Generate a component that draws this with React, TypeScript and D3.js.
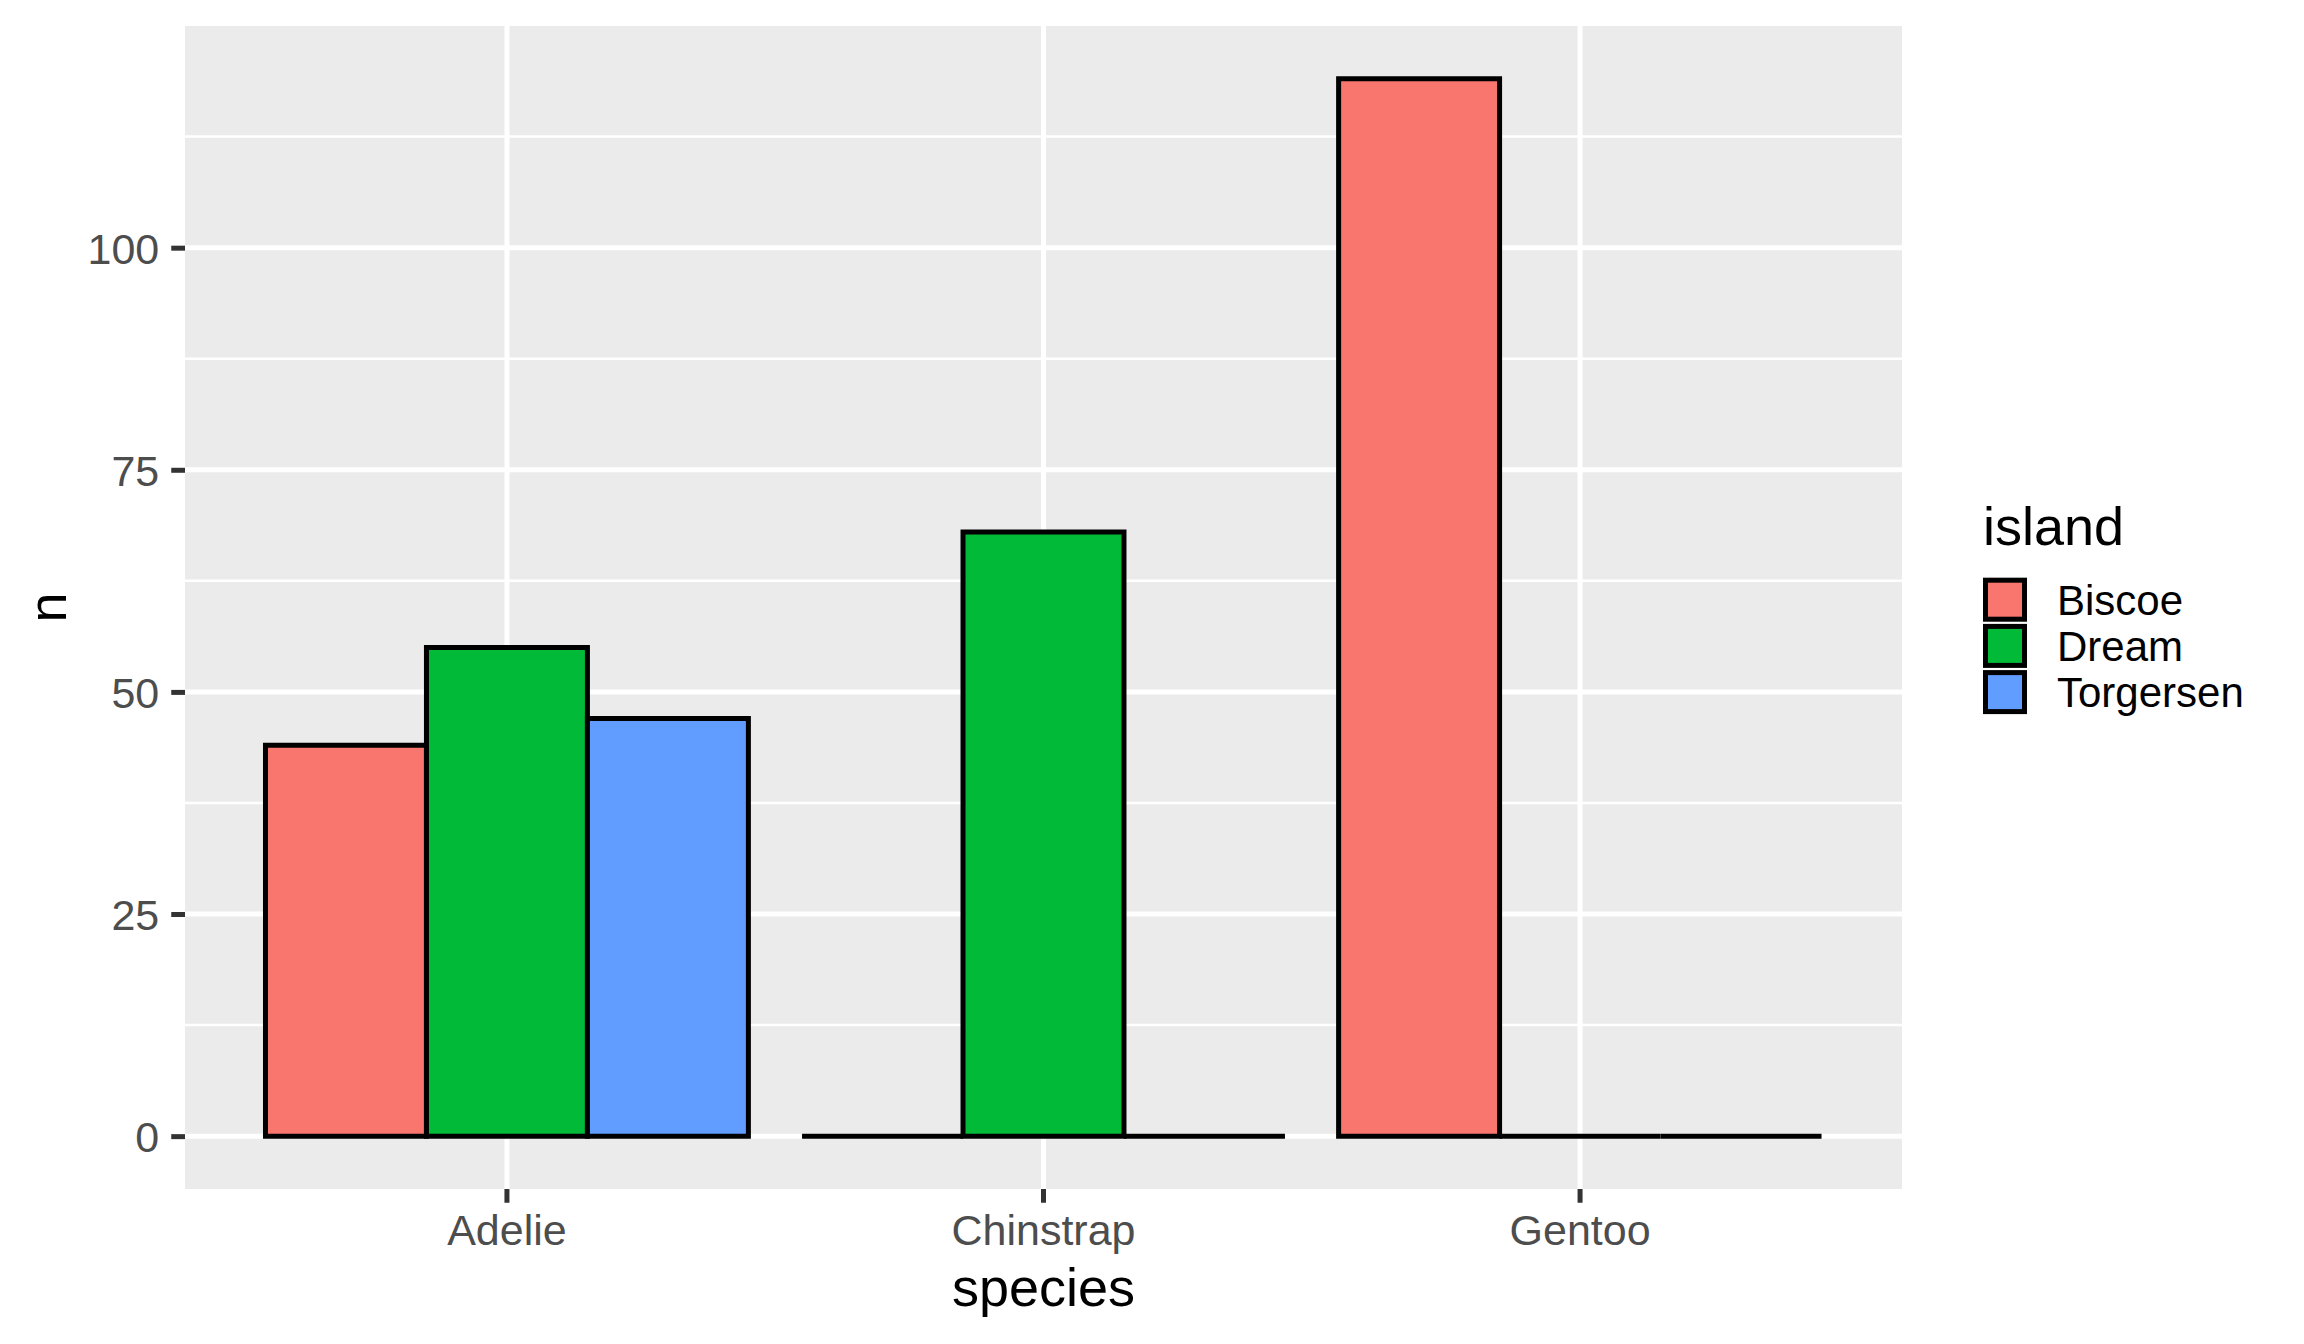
import * as d3 from "d3";
import { useEffect, useRef } from "react";

// penguin counts per species, one array per island
const species = ["Adelie", "Chinstrap", "Gentoo"];
const islands = ["Biscoe", "Dream", "Torgersen"];
const biscoe = [44, 0, 119];
const dream = [55, 68, 0];
const torgersen = [47, 0, 0];
const yTicks = [0, 25, 50, 75, 100];
const yMinor = [12.5, 37.5, 62.5, 87.5, 112.5];
const islandColors = ["#F8766D", "#00BA38", "#619CFF"];

const width = 2304;
const height = 1344;

export default function App() {
  const svgRef = useRef<SVGSVGElement | null>(null);

  useEffect(() => {
    document.body.style.margin = "0";
    const svg = d3.select(svgRef.current);
    svg.selectAll("*").remove();

    const font = "'Liberation Sans', Arial, sans-serif";
    const panel = { left: 185, right: 1902, top: 26, bottom: 1189 };

    const counts = [biscoe, dream, torgersen];
    const rows = species.flatMap((s, i) =>
      islands.map((isl, j) => ({ species: s, island: isl, n: counts[j][i], color: islandColors[j] })),
    );
    const maxN = d3.max(rows, (d) => d.n) as number;

    // Scales (ggplot-style expansion)
    const x = d3
      .scaleBand<string>()
      .domain(species)
      .range([panel.left, panel.right])
      .paddingInner(0.1)
      .paddingOuter(0.15);
    const xInner = d3.scaleBand<string>().domain(islands).range([0, x.bandwidth()]);
    const y = d3
      .scaleLinear()
      .domain([-0.05 * maxN, 1.05 * maxN])
      .range([panel.bottom, panel.top]);

    // Panel background
    svg
      .append("rect")
      .attr("x", panel.left)
      .attr("y", panel.top)
      .attr("width", panel.right - panel.left)
      .attr("height", panel.bottom - panel.top)
      .attr("fill", "#EBEBEB");

    // Grid
    const grid = svg.append("g").attr("stroke", "#FFFFFF");
    grid
      .selectAll("line.minor")
      .data(yMinor)
      .enter()
      .append("line")
      .attr("x1", panel.left)
      .attr("x2", panel.right)
      .attr("y1", (d) => y(d))
      .attr("y2", (d) => y(d))
      .attr("stroke-width", 2.5);
    grid
      .selectAll("line.major")
      .data(yTicks)
      .enter()
      .append("line")
      .attr("x1", panel.left)
      .attr("x2", panel.right)
      .attr("y1", (d) => y(d))
      .attr("y2", (d) => y(d))
      .attr("stroke-width", 5);
    grid
      .selectAll("line.vmajor")
      .data(species)
      .enter()
      .append("line")
      .attr("x1", (d) => (x(d) as number) + x.bandwidth() / 2)
      .attr("x2", (d) => (x(d) as number) + x.bandwidth() / 2)
      .attr("y1", panel.top)
      .attr("y2", panel.bottom)
      .attr("stroke-width", 5);

    // Bars (paths so that zero-height bars still show their outline)
    svg
      .append("g")
      .selectAll("path")
      .data(rows)
      .enter()
      .append("path")
      .attr("d", (d) => {
        const p = d3.path();
        const x0 = (x(d.species) as number) + (xInner(d.island) as number);
        p.rect(x0, y(d.n), xInner.bandwidth(), y(0) - y(d.n));
        return p.toString();
      })
      .attr("fill", (d) => d.color)
      .attr("stroke", "#000000")
      .attr("stroke-width", 5);

    // Y axis
    const yAxis = d3.axisLeft(y).tickValues(yTicks).tickSize(13.75).tickPadding(12);
    const yg = svg.append("g").attr("transform", `translate(${panel.left},0)`).call(yAxis);
    yg.select(".domain").remove();
    yg.selectAll(".tick line").attr("stroke", "#333333").attr("stroke-width", 5);
    yg.selectAll(".tick text")
      .attr("fill", "#4D4D4D")
      .style("font-family", font)
      .style("font-size", "43px")
      .attr("dy", "0.36em");

    // X axis
    const xAxis = d3.axisBottom(x).tickSize(13.75).tickPadding(12);
    const xg = svg.append("g").attr("transform", `translate(0,${panel.bottom})`).call(xAxis);
    xg.select(".domain").remove();
    xg.selectAll(".tick line").attr("stroke", "#333333").attr("stroke-width", 5);
    xg.selectAll(".tick text")
      .attr("fill", "#4D4D4D")
      .style("font-family", font)
      .style("font-size", "43px");

    // Axis titles
    svg
      .append("text")
      .attr("x", (panel.left + panel.right) / 2)
      .attr("y", 1306)
      .attr("text-anchor", "middle")
      .style("font-family", font)
      .style("font-size", "54px")
      .text("species");
    svg
      .append("text")
      .attr("transform", `translate(66,${(panel.top + panel.bottom) / 2}) rotate(-90)`)
      .attr("text-anchor", "middle")
      .style("font-family", font)
      .style("font-size", "54px")
      .text("n");

    // Legend
    const legend = svg.append("g");
    legend
      .append("text")
      .attr("x", 1983)
      .attr("y", 545)
      .style("font-family", font)
      .style("font-size", "54px")
      .text("island");
    const keys = legend
      .selectAll("g.key")
      .data(islands)
      .enter()
      .append("g")
      .attr("transform", (d, i) => `translate(1983,${577.7 + i * 46.2})`);
    keys
      .append("rect")
      .attr("width", 44)
      .attr("height", 44)
      .attr("fill", "#F2F2F2");
    keys
      .append("rect")
      .attr("x", 2.5)
      .attr("y", 2.5)
      .attr("width", 39)
      .attr("height", 39)
      .attr("fill", (d, i) => islandColors[i])
      .attr("stroke", "#000000")
      .attr("stroke-width", 5);
    keys
      .append("text")
      .attr("x", 74)
      .attr("y", 22)
      .attr("dy", "0.36em")
      .style("font-family", font)
      .style("font-size", "42px")
      .text((d) => d);
  }, []);

  return <svg ref={svgRef} width={width} height={height} style={{ display: "block", background: "#FFFFFF" }}></svg>;
}
